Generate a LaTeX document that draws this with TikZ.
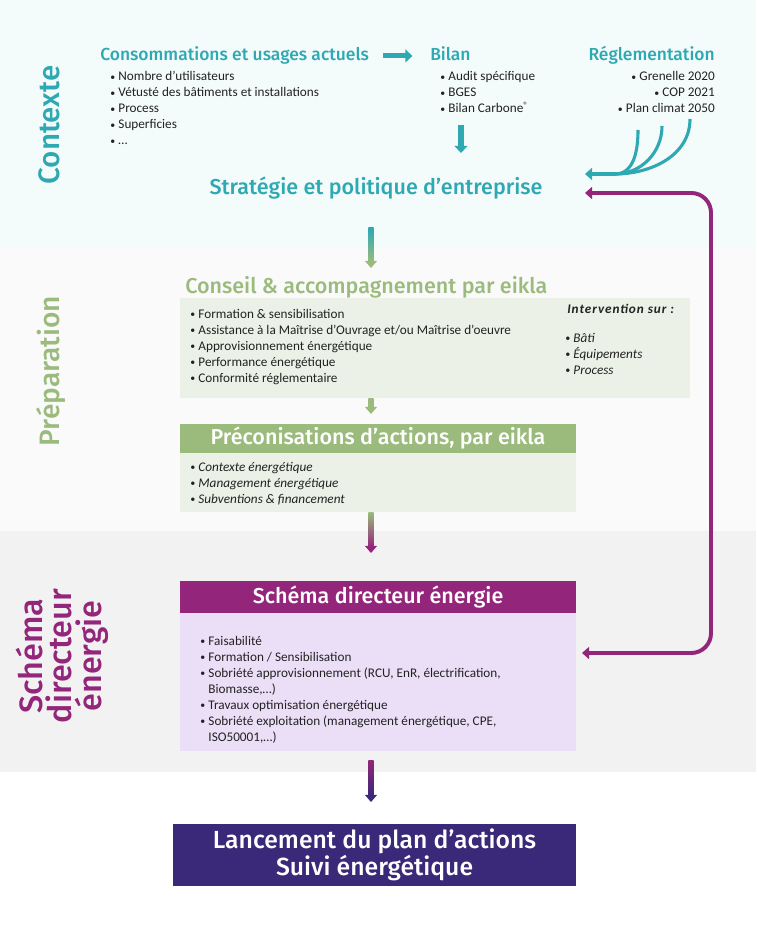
\documentclass[tikz,border=0pt]{standalone}
\usepackage{fontspec}
\setmainfont{Carlito}
\newfontfamily\headfont{Fira Sans Medium}
\usetikzlibrary{arrows.meta,calc,positioning}

\definecolor{ctxteal}{RGB}{46,168,178}
\definecolor{prepgreen}{RGB}{155,187,125}
\definecolor{sdpurple}{RGB}{147,38,122}
\definecolor{planindigo}{RGB}{58,40,120}
\definecolor{ctxbg}{RGB}{243,251,251}
\definecolor{prepbg}{RGB}{250,250,250}
\definecolor{sdbg}{RGB}{242,242,242}
\definecolor{greenbox}{RGB}{236,241,231}
\definecolor{lilacbox}{RGB}{235,223,247}
\definecolor{itemgray}{RGB}{34,34,34}

\newcommand\itembul{\makebox[5.8pt][l]{\raisebox{.6pt}{\scriptsize•}}}
\newcommand\itemgap{\hspace*{5.8pt}}
% shaded block arrow: from, to, top colour, bottom colour
\newcommand\gradarrow[4]{%
  \shade[top color=#3,bottom color=#4] ([xshift=-1.8pt]#1) rectangle ([xshift=1.8pt,yshift=4pt]#2);
  \fill[#4] ([xshift=-4.3pt,yshift=5pt]#2) -- (#2) -- ([xshift=4.3pt,yshift=5pt]#2) -- cycle;}

\begin{document}
\begin{tikzpicture}[x=0.025cm,y=-0.025cm,
  item/.style={anchor=base west,inner sep=0,text=itemgray,font=\fontsize{9.4}{11}\selectfont},
  head/.style={anchor=base west,inner sep=0,text=ctxteal,font=\headfont\fontsize{12.4}{14}\selectfont},
  sidelabel/.style={rotate=90,align=center,inner sep=0,font=\headfont\fontsize{21}{19}\selectfont},
  box/.style={anchor=north west,inner sep=0,outer sep=0,minimum width=9.9cm},
  tealarrow/.style={ctxteal,line width=3.6pt,-{Triangle[length=5pt,width=9pt]}},
  tealcurve/.style={ctxteal,line width=2.2pt},
  purpleline/.style={sdpurple,line width=2.8pt,rounded corners=14pt,
    {Triangle[length=5pt,width=8.5pt]}-{Triangle[length=5pt,width=8.5pt]}}]
\useasboundingbox (0,0) rectangle (756,945);

% bands
\fill[ctxbg] (0,0) rectangle (756,248);
\fill[prepbg] (0,248) rectangle (756,531);
\fill[sdbg] (0,531) rectangle (756,772);

\node[sidelabel,text=ctxteal] (ctxlabel) at (49,125) {Contexte};
\node[sidelabel,text=prepgreen,font=\headfont\fontsize{20}{19}\selectfont] (preplabel) at (51,371) {Préparation};
\node[sidelabel,text=sdpurple,font=\headfont\fontsize{23}{21}\selectfont] (sdlabel) at (62,656) {Schéma\\directeur\\énergie};

% contexte
\node[head] (conso) at (100,61) {Consommations et usages actuels};
\node[head] (bilan) at (430,61) {Bilan};
\node[head,anchor=base east] (regl) at (715,61) {Réglementation};
\draw[tealarrow,shorten <=10pt,shorten >=12.5pt] (conso.east) -- (conso.east -| bilan.west);

\foreach \txt [count=\i from 0] in {Nombre d’utilisateurs, Vétusté des bâtiments et installations, Process, Superficies, …}
  \node[item] (conso\i) at (110,81+16*\i) {\itembul\txt};
\foreach \txt [count=\i from 0] in {Audit spécifique, BGES, Bilan Carbone\raisebox{3pt}{\fontsize{6.5}{7}\selectfont®}}
  \node[item] (bilan\i) at (440,81+16*\i) {\itembul\txt};
\foreach \txt [count=\i from 0] in {Grenelle 2020, COP 2021, Plan climat 2050}
  \node[item,anchor=base east] (regl\i) at (715,81+16*\i) {\itembul\txt};

\node[head,anchor=base,font=\headfont\fontsize{15.3}{18}\selectfont] (strat) at (376,195) {Stratégie et politique d’entreprise};

\coordinate (bilanout) at (461,125);
\coordinate (bilanin) at (461,153);
\draw[tealarrow] (bilanout) -- (bilanin);

\coordinate (reg1) at (638,130);
\coordinate (reg2) at (662,126);
\coordinate (reg3) at (690,119);
\coordinate (merge) at (615,174);
\coordinate (reglin) at (585,174);
\foreach \r in {reg1,reg2,reg3}
  \draw[tealcurve] (\r) to[out=-90,in=0] (merge);
\draw[tealcurve,-{Triangle[length=5pt,width=8.5pt]}] (merge) -- (reglin);

% preparation
\node[box,fill=greenbox,minimum width=12.75cm,minimum height=2.5cm] (conseilbox) at (180,298) {};
\node[head,text=prepgreen,font=\headfont\fontsize{15.3}{18}\selectfont] (conseil) at (185,293) {Conseil \& accompagnement par eikla};
\foreach \txt [count=\i from 0] in {Formation \& sensibilisation, Assistance à la Maîtrise d’Ouvrage et/ou Maîtrise d’oeuvre, Approvisionnement énergétique, Performance énergétique, Conformité réglementaire}
  \node[item] (conseil\i) at (190,318+16*\i) {\itembul\txt};
\node[item,font=\fontsize{9.4}{11}\selectfont\bfseries\itshape\addfontfeatures{LetterSpace=7}] (interv) at (567,313) {Intervention sur :};
\foreach \txt [count=\i from 0] in {Bâti, Équipements, Process}
  \node[item,font=\fontsize{9.4}{11}\selectfont\itshape] (interv\i) at (565,342+16*\i) {\itembul\txt};

\node[box,fill=prepgreen,minimum height=0.725cm,text=white,font=\headfont\fontsize{15.3}{17}\selectfont] (precohead) at (180,424) {Préconisations d’actions, par eikla};
\node[box,fill=greenbox,minimum height=1.475cm] (precobody) at (180,453) {};
\foreach \txt [count=\i from 0] in {Contexte énergétique, Management énergétique, Subventions \& financement}
  \node[item,font=\fontsize{9.4}{11}\selectfont\itshape] (preco\i) at (190,471+16*\i) {\itembul\txt};

% schema directeur
\node[box,fill=sdpurple,minimum height=0.8cm,text=white,font=\headfont\fontsize{15.3}{17}\selectfont] (sdhead) at (180,581) {Schéma directeur énergie};
\node[box,fill=lilacbox,minimum height=3.45cm] (sdbody) at (180,613) {};
\foreach \txt [count=\i from 0] in {\itembul Faisabilité, \itembul Formation / Sensibilisation, {\itembul Sobriété approvisionnement (RCU, EnR, électrification,}, {\itemgap Biomasse,…)}, \itembul Travaux optimisation énergétique, {\itembul Sobriété exploitation (management énergétique, CPE,}, {\itemgap ISO50001,…)}}
  \node[item] (sd\i) at (200,645+16*\i) {\txt};

% plan
\node[box,fill=planindigo,minimum width=10.075cm,minimum height=1.55cm,text=white,align=center,font=\headfont\fontsize{17.6}{18}\selectfont] (plan) at (173,824) {Lancement du plan d’actions\\Suivi énergétique};

% spine arrows
\coordinate (spine) at (371,0);
\coordinate (stratout) at (371,228);
\coordinate (conseilin) at (371,268);
\coordinate (conseilout) at (conseilbox.south -| spine);
\coordinate (precoin) at (371,414);
\coordinate (precoout) at (precobody.south -| spine);
\coordinate (sdin) at (371,553);
\coordinate (sdout) at (371,760);
\coordinate (planin) at (371,802);
\gradarrow{stratout}{conseilin}{ctxteal}{prepgreen}
\gradarrow{conseilout}{precoin}{prepgreen}{prepgreen}
\gradarrow{precoout}{sdin}{prepgreen}{sdpurple}
\gradarrow{sdout}{planin}{sdpurple}{planindigo}

% return loop
\coordinate (stratret) at (585,193);
\coordinate (sdret) at (582,653);
\coordinate (retx) at (711,0);
\draw[purpleline] (stratret) -| (retx |- sdret) -- (sdret);
\end{tikzpicture}
\end{document}
